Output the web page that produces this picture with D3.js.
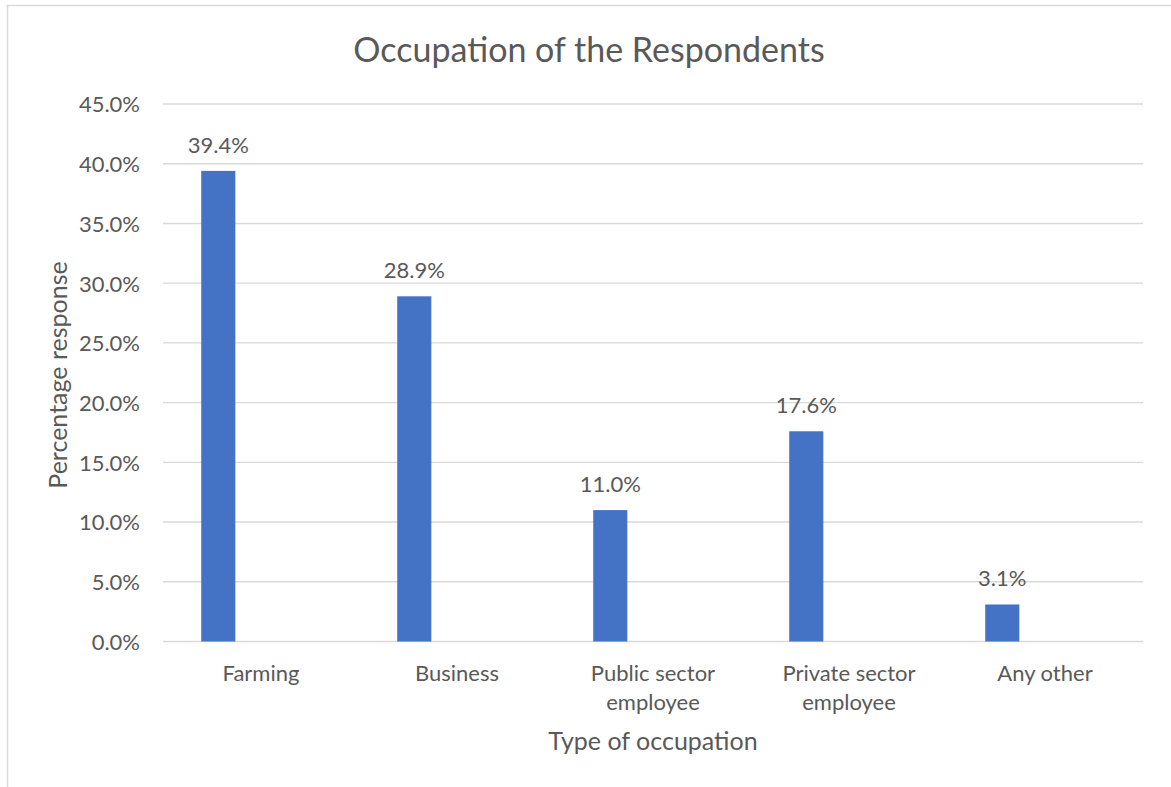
<!DOCTYPE html>
<html>
<head>
<meta charset="utf-8">
<script src="https://cdn.jsdelivr.net/npm/d3@7/dist/d3.min.js"></script>
<style>
  html, body { margin: 0; padding: 0; background: #ffffff; }
  svg { display: block; }
  text { font-family: Lato, "Open Sans", sans-serif; fill: #595959; }
</style>
</head>
<body>
<svg id="chart" width="1171" height="787"></svg>
<script>
// Occupation categories (two-line labels split on "\n")
const categories = ["Farming", "Business", "Public sector\nemployee", "Private sector\nemployee", "Any other"];
// Percentage response per occupation
const values = [39.4, 28.9, 11.0, 17.6, 3.1];
// Y axis tick values
const yTicks = [0, 5, 10, 15, 20, 25, 30, 35, 40, 45];

const titleText = "Occupation of the Respondents";
const xTitleText = "Type of occupation";
const yTitleText = "Percentage response";

const svg = d3.select("#chart");
const W = 1171, H = 787;
const plot = { left: 163, right: 1143, top: 104, bottom: 641.5 };

// Outer chart frame (extends past the right and bottom edges)
svg.append("rect")
  .attr("x", 7.5).attr("y", 5.5)
  .attr("width", W + 10).attr("height", H + 10)
  .attr("fill", "#ffffff")
  .attr("stroke", "#d9d9d9").attr("stroke-width", 1.5);

const x = d3.scaleBand().domain(categories).range([plot.left, plot.right]).padding(0);
const y = d3.scaleLinear().domain([0, 45]).range([plot.bottom, plot.top]);

// Horizontal gridlines
svg.append("g")
  .selectAll("line")
  .data(yTicks)
  .join("line")
  .attr("x1", plot.left).attr("x2", plot.right)
  .attr("y1", d => y(d)).attr("y2", d => y(d))
  .attr("stroke", "#d9d9d9").attr("stroke-width", 1.4);

// Y axis tick labels
const yAxis = d3.axisLeft(y).tickValues(yTicks).tickFormat(d => d.toFixed(1) + "%").tickSize(0).tickPadding(0);
const gy = svg.append("g").attr("transform", `translate(${140},0)`).call(yAxis);
gy.select(".domain").remove();
gy.selectAll("text")
  .attr("font-family", "Lato, sans-serif")
  .attr("font-size", 22)
  .attr("fill", "#595959")
  .attr("dy", "0.36em");

// Bars
const barOffset = 0.195, barWidth = 0.174;
svg.append("g")
  .selectAll("rect")
  .data(values)
  .join("rect")
  .attr("x", (d, i) => x(categories[i]) + x.bandwidth() * barOffset)
  .attr("width", x.bandwidth() * barWidth)
  .attr("y", d => y(d))
  .attr("height", d => y(0) - y(d))
  .attr("fill", "#4472c4");

// Value labels above bars
svg.append("g")
  .selectAll("text")
  .data(values)
  .join("text")
  .attr("x", (d, i) => x(categories[i]) + x.bandwidth() * (barOffset + barWidth / 2))
  .attr("y", d => y(d) - 18)
  .attr("text-anchor", "middle")
  .attr("font-size", 22)
  .text(d => d.toFixed(1) + "%");

// Category labels
const catG = svg.append("g");
categories.forEach(c => {
  const t = catG.append("text")
    .attr("x", x(c) + x.bandwidth() / 2)
    .attr("y", 681)
    .attr("text-anchor", "middle")
    .attr("font-size", 22);
  c.split("\n").forEach((line, j) => {
    t.append("tspan")
      .attr("x", x(c) + x.bandwidth() / 2)
      .attr("dy", j === 0 ? 0 : 29)
      .text(line);
  });
});

// Chart title
svg.append("text")
  .attr("x", 589).attr("y", 62)
  .attr("text-anchor", "middle")
  .attr("font-size", 34)
  .text(titleText);

// X axis title
svg.append("text")
  .attr("x", (plot.left + plot.right) / 2).attr("y", 750)
  .attr("text-anchor", "middle")
  .attr("font-size", 25)
  .text(xTitleText);

// Y axis title
svg.append("text")
  .attr("transform", `translate(67,${375}) rotate(-90)`)
  .attr("text-anchor", "middle")
  .attr("font-size", 25)
  .text(yTitleText);
</script>
</body>
</html>
